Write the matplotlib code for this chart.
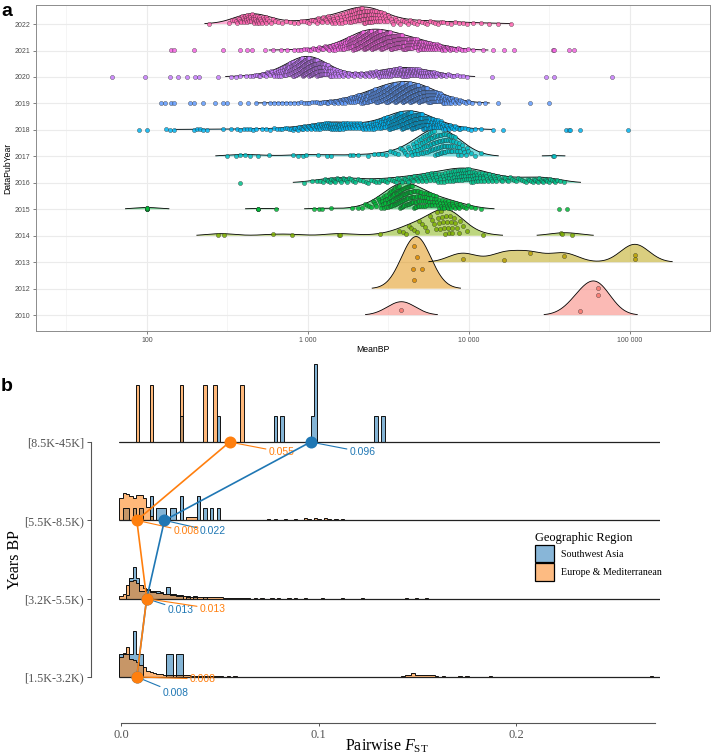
import numpy as np
import matplotlib
matplotlib.use("Agg")
import matplotlib.pyplot as plt
from matplotlib.patches import Patch
from matplotlib.ticker import FixedLocator, FixedFormatter

W, H = 713, 756
plt.rcParams['mathtext.fontset'] = 'custom'
plt.rcParams['mathtext.rm'] = 'Liberation Serif'
plt.rcParams['mathtext.it'] = 'Liberation Serif:italic'
SANS = 'Liberation Sans'
SERIF = 'Liberation Serif'

# ======================= panel a data =======================
years = ["2010", "2012", "2013", "2014", "2015", "2016", "2017",
         "2018", "2019", "2020", "2021", "2022"]
year_colors = ["#F8766D", "#DE8C00", "#B79F00", "#7CAE00", "#00BA38", "#00C08B",
               "#00BFC4", "#00B4F0", "#619CFF", "#C77CFF", "#F564E3", "#FF64B0"]

# log10(MeanBP) bin centres (bin width 0.05) used for the dense parts of each year
log10_bin_centers = [2.525, 2.575, 2.625, 2.675, 2.725, 2.775, 2.825, 2.875, 2.925, 2.975,
                     3.025, 3.075, 3.125, 3.175, 3.225, 3.275, 3.325, 3.375, 3.425, 3.475,
                     3.525, 3.575, 3.625, 3.675, 3.725, 3.775, 3.825, 3.875, 3.925, 3.975,
                     4.025, 4.075, 4.125, 4.175, 4.225, 4.275, 4.325, 4.375, 4.425, 4.475,
                     4.525, 4.575, 4.625, 4.675]

counts_2022 = [3, 8, 14, 14, 9, 4, 2, 2, 2, 3, 4, 6, 8, 9, 10, 15, 20, 20, 15, 9,
               6, 4, 4, 3, 3, 3, 3, 2, 2, 2, 1, 1, 1, 0, 0, 0, 0, 0, 0, 0, 0, 0, 0, 0]
singles_2022 = [2.385, 4.18, 4.26]

counts_2021 = [0, 0, 0, 0, 0, 0, 0, 0, 2, 3, 4, 6, 8, 11, 18, 30, 42, 50, 47, 42,
               37, 33, 29, 24, 19, 15, 11, 7, 4, 3, 1, 0, 0, 0, 0, 0, 0, 0, 0, 0, 0, 0, 0, 0]
singles_2021 = [2.15, 2.17, 2.29, 2.47, 2.58, 2.62, 2.65, 2.73, 2.78, 2.83, 2.87,
                4.09, 4.15, 4.22, 4.28, 4.52, 4.53, 4.62, 4.65]

counts_2020 = [0, 0, 2, 4, 6, 9, 15, 25, 42, 58, 56, 40, 22, 11, 7, 5, 6, 8, 12, 16,
               20, 22, 22, 20, 16, 12, 7, 4, 3, 2, 0, 0, 0, 0, 0, 0, 0, 0, 0, 0, 0, 0, 0, 0]
singles_2020 = [1.78, 1.99, 2.14, 2.19, 2.25, 2.30, 2.32, 2.44, 2.52, 2.55, 2.58,
                4.14, 4.48, 4.53, 4.89]

counts_2019 = [0, 1, 1, 1, 1, 2, 2, 2, 2, 3, 3, 4, 5, 7, 10, 14, 20, 27, 35, 43,
               50, 54, 54, 50, 42, 32, 22, 13, 7, 4, 0, 0, 0, 0, 0, 0, 0, 0, 0, 0, 0, 0, 0, 0]
singles_2019 = [2.09, 2.11, 2.15, 2.17, 2.27, 2.29, 2.35, 2.42, 2.47, 2.50,
                4.00, 4.02, 4.06, 4.10, 4.18, 4.38, 4.50]

counts_2018 = [0, 0, 0, 0, 2, 2, 3, 4, 6, 7, 9, 13, 17, 17, 14, 11, 10, 11, 15, 20,
               30, 38, 41, 38, 30, 22, 14, 8, 5, 3, 2, 1, 0, 0, 0, 0, 0, 0, 0, 0, 0, 0, 0, 0]
singles_2018 = [1.95, 2.00, 2.12, 2.14, 2.17, 2.29, 2.31, 2.33, 2.35, 2.37, 2.47, 2.52,
                2.56, 2.58, 2.60, 2.62, 2.64, 2.66, 2.68, 4.15, 4.21, 4.60, 4.62, 4.63,
                4.69, 4.99]

counts_2017 = [0, 0, 0, 0, 0, 0, 0, 0, 0, 0, 0, 0, 0, 0, 0, 0, 0, 1, 2, 2,
               3, 4, 6, 11, 17, 21, 22, 19, 12, 6, 2, 1, 0, 0, 0, 0, 0, 0, 0, 0, 0, 0, 0, 0]
singles_2017 = [2.50, 2.55, 2.58, 2.61, 2.64, 2.69, 2.76, 2.91, 2.94, 2.97, 2.99,
                3.06, 3.12, 3.14, 3.26, 3.28, 3.31, 4.52, 4.53]

counts_2016 = [0, 0, 0, 0, 0, 0, 0, 0, 0, 1, 1, 3, 5, 6, 5, 4, 3, 3, 3, 4,
               4, 5, 6, 7, 8, 9, 10, 12, 14, 15, 14, 11, 8, 6, 5, 4, 4, 5, 6, 6, 5, 2, 0, 0]
singles_2016 = [2.58]

counts_2015 = [0, 0, 0, 0, 0, 0, 0, 0, 0, 0, 0, 0, 0, 0, 0, 1, 2, 4, 7, 14,
               24, 33, 30, 22, 15, 12, 11, 10, 7, 4, 2, 1, 0, 0, 0, 0, 0, 0, 0, 0, 0, 0, 0, 0]
singles_2015 = [2.00, 2.00, 2.00, 2.00, 2.00, 2.00, 2.00, 2.69, 2.69, 2.69, 2.80,
                3.04, 3.07, 3.09, 3.14, 4.56, 4.61]

counts_2014 = [0, 0, 0, 0, 0, 0, 0, 0, 0, 0, 0, 0, 0, 0, 0, 0, 0, 0, 0, 0,
               0, 2, 3, 3, 3, 4, 8, 9, 5, 2, 0, 0, 0, 0, 0, 0, 0, 0, 0, 0, 0, 0, 0, 0]
singles_2014 = [2.44, 2.48, 2.78, 2.90, 3.19, 3.20, 3.45, 4.09, 4.57, 4.58, 4.64]

counts_2013 = [0] * 44
singles_2013 = [3.96, 4.22, 4.38, 4.59, 5.03, 5.03]
counts_2012 = [0] * 44
singles_2012 = [3.65, 3.66, 3.66, 3.68, 3.71]
counts_2010 = [0] * 44
singles_2010 = [3.58, 4.69, 4.80, 4.80]

year_counts = [counts_2010, counts_2012, counts_2013, counts_2014, counts_2015, counts_2016,
               counts_2017, counts_2018, counts_2019, counts_2020, counts_2021, counts_2022]
year_singles = [singles_2010, singles_2012, singles_2013, singles_2014, singles_2015,
                singles_2016, singles_2017, singles_2018, singles_2019, singles_2020,
                singles_2021, singles_2022]

joint_bandwidth = 0.088     # log10 units
ridge_scale = 1.97
rel_min_height = 0.01

# ======================= panel b data =======================
age_bins = ["[1.5K-3.2K)", "[3.2K-5.5K)", "[5.5K-8.5K)", "[8.5K-45K]"]
fst_binwidth = 0.0017

eur_r0_fst = [0.0, 0.0017, 0.0034, 0.0051, 0.0068, 0.0085, 0.0102, 0.0119, 0.0136, 0.0153,
              0.017, 0.0187, 0.0204, 0.0221, 0.0238, 0.0255, 0.0272, 0.0289, 0.0306, 0.0323,
              0.034, 0.0357, 0.0374, 0.0391, 0.0408, 0.0425, 0.0442, 0.0459, 0.0476, 0.0493,
              0.051, 0.0544, 0.0578, 0.1428, 0.1445, 0.1462, 0.1479, 0.1496, 0.1513, 0.153,
              0.1547, 0.1564, 0.1581, 0.1598, 0.1632, 0.1717, 0.1751, 0.187, 0.2686]
eur_r0_h = [0.255, 0.31, 0.38, 0.23, 0.22, 0.19, 0.15, 0.13, 0.08, 0.064,
            0.05, 0.04, 0.04, 0.026, 0.026, 0.026, 0.02, 0.02, 0.02, 0.02,
            0.02, 0.013, 0.013, 0.013, 0.013, 0.013, 0.013, 0.013, 0.013, 0.007,
            0.007, 0.007, 0.007, 0.013, 0.02, 0.03, 0.045, 0.03, 0.02, 0.03,
            0.025, 0.02, 0.025, 0.015, 0.01, 0.008, 0.008, 0.008, 0.008]
swa_r0_fst = [0.0, 0.0017, 0.0034, 0.0051, 0.0068, 0.0085, 0.0102, 0.0238, 0.0255, 0.0289, 0.0306]
swa_r0_h = [0.294, 0.294, 0.294, 0.294, 0.59, 0.294, 0.294, 0.294, 0.294, 0.294, 0.294]

eur_r1_fst = [0.0, 0.0017, 0.0034, 0.0051, 0.0068, 0.0085, 0.0102, 0.0119, 0.0136, 0.0153,
              0.017, 0.0187, 0.0204, 0.0221, 0.0238, 0.0255, 0.0272, 0.0289, 0.0306, 0.0323,
              0.034, 0.0357, 0.0374, 0.0391, 0.0408, 0.0425, 0.0442, 0.0459, 0.0476, 0.0493,
              0.051, 0.0527, 0.0544, 0.0561, 0.0578, 0.0595, 0.0612, 0.0629, 0.0646, 0.068,
              0.0714, 0.0765, 0.0799, 0.085, 0.0884, 0.0935, 0.102, 0.1122, 0.1224, 0.1445,
              0.1496, 0.1547]
eur_r1_h = [0.03, 0.06, 0.17, 0.23, 0.24, 0.2, 0.18, 0.14, 0.115, 0.1,
            0.09, 0.077, 0.077, 0.064, 0.064, 0.05, 0.05, 0.04, 0.04, 0.04,
            0.025, 0.025, 0.025, 0.02, 0.02, 0.02, 0.02, 0.02, 0.02, 0.02,
            0.02, 0.012, 0.012, 0.012, 0.012, 0.012, 0.012, 0.012, 0.012, 0.006,
            0.006, 0.006, 0.006, 0.006, 0.006, 0.006, 0.006, 0.006, 0.006, 0.006,
            0.006, 0.006]
swa_r1_fst = [0.0034, 0.0051, 0.0068, 0.0085, 0.0102, 0.0119, 0.0136, 0.0153, 0.017, 0.0187,
              0.0204, 0.0221, 0.0238, 0.0255, 0.0272, 0.0289, 0.0306, 0.034, 0.0374, 0.0425]
swa_r1_h = [0.05, 0.27, 0.41, 0.27, 0.1, 0.1, 0.12, 0.08, 0.1, 0.1,
            0.08, 0.06, 0.15, 0.06, 0.06, 0.05, 0.05, 0.04, 0.03, 0.02]

eur_r2_fst = [0.0, 0.0017, 0.0034, 0.0051, 0.0068, 0.0085, 0.0102, 0.0119, 0.0136, 0.0153,
              0.017, 0.0187, 0.0204, 0.0221, 0.0238, 0.0255, 0.0272, 0.0289, 0.0306, 0.0323,
              0.034, 0.0357, 0.0374, 0.0748, 0.0782, 0.0833, 0.0884, 0.0935, 0.0952, 0.0986,
              0.1003, 0.1037, 0.1054, 0.1088, 0.1122, 0.1156, 0.119]
eur_r2_h = [0.29, 0.345, 0.33, 0.31, 0.29, 0.32, 0.32, 0.28, 0.17, 0.05,
            0.01, 0.01, 0.01, 0.01, 0.01, 0.01, 0.01, 0.01, 0.01, 0.01,
            0.04, 0.04, 0.04, 0.015, 0.02, 0.015, 0.02, 0.025, 0.02, 0.025,
            0.02, 0.025, 0.02, 0.02, 0.015, 0.01, 0.01]
swa_r2_fst = [0.0017, 0.0034, 0.0068, 0.0102, 0.0153, 0.0187, 0.0204, 0.0221, 0.0255,
              0.0272, 0.0306, 0.0391, 0.0425, 0.0459, 0.0493]
swa_r2_h = [0.153, 0.153, 0.153, 0.153, 0.306, 0.153, 0.153, 0.153, 0.153,
            0.153, 0.306, 0.306, 0.153, 0.153, 0.153]

eur_r3_fst = [0.0085, 0.0153, 0.0306, 0.0425, 0.0476, 0.0612]
eur_r3_h = [0.728, 0.728, 0.728, 0.728, 0.728, 0.728]
swa_r3_fst = [0.0306, 0.0493, 0.0782, 0.0816, 0.0969, 0.0986, 0.1292, 0.1326]
swa_r3_h = [0.332, 0.332, 0.332, 0.332, 0.332, 0.996, 0.332, 0.332]

swa_summary = [0.008, 0.013, 0.022, 0.096]
eur_summary = [0.008, 0.013, 0.008, 0.055]

region_names = ["Southwest Asia", "Europe & Mediterranean"]
region_colors = ["#1f77b4", "#ff7f0e"]

# ======================= figure =======================
fig = plt.figure(figsize=(W / 100, H / 100), dpi=100)


def px_text(x, y, s, **kw):
    fig.text(x / W, 1 - y / H, s, **kw)


# ----------------------- panel a -----------------------
ax = fig.add_axes([36 / W, 1 - 331 / H, (710 - 36) / W, (331 - 5) / H])
ax.set_xscale('log')
grid = np.linspace(1.2, 5.6, 1500)


def kde(vals, x):
    z = (x[:, None] - vals[None, :]) / joint_bandwidth
    return np.exp(-0.5 * z * z).sum(axis=1) / (len(vals) * joint_bandwidth * np.sqrt(2 * np.pi))


year_points = []
for cnts, singles in zip(year_counts, year_singles):
    pts = list(singles)
    for c, n in zip(log10_bin_centers, cnts):
        for j in range(n):
            pts.append(c - 0.025 + (j + 0.5) * 0.05 / n)
    year_points.append(np.sort(np.array(pts)))

dens = [kde(p, grid) for p in year_points]
gmax = max(d.max() for d in dens)

for i, (pts, d, col) in enumerate(zip(year_points, dens, year_colors)):
    base = i + 1
    h = d / gmax * ridge_scale
    mask = d >= rel_min_height * gmax
    z = 2 + i * 3
    ax.fill_between(10 ** grid, base, base + h, where=mask, facecolor=col, alpha=0.5,
                    lw=0, zorder=z)
    ax.plot(10 ** grid, np.where(mask, base + h, np.nan), color='black', lw=0.6, zorder=z + 0.1)
    hp = kde(pts, pts) / gmax * ridge_scale
    u = 0.06 + 0.88 * ((np.arange(len(pts)) * 0.7548776662 + 0.37) % 1.0)
    ax.scatter(10 ** pts, base + u * hp, s=9, facecolor=col, edgecolor='#2b2b2b',
               linewidths=0.3, alpha=0.85, zorder=z + 0.2)

ax.set_xlim(10 ** 1.3106, 10 ** 5.497)
ax.set_ylim(0.4, 12.72)
ax.xaxis.set_major_locator(FixedLocator([100, 1000, 10000, 100000]))
ax.xaxis.set_major_formatter(FixedFormatter(["100", "1 000", "10 000", "100 000"]))
ax.xaxis.set_minor_locator(FixedLocator([10 ** 1.5, 10 ** 2.5, 10 ** 3.5, 10 ** 4.5, 10 ** 5.5]))
ax.xaxis.set_minor_formatter(FixedFormatter([""] * 5))
ax.set_yticks(range(1, len(years) + 1))
ax.set_yticklabels(years)
ax.tick_params(axis='both', which='major', labelsize=5, colors='#4D4D4D', length=2,
               width=0.5, pad=2)
ax.tick_params(axis='x', which='minor', length=0)
for lab in ax.get_xticklabels() + ax.get_yticklabels():
    lab.set_fontfamily(SANS)
ax.grid(which='major', color='#EBEBEB', lw=0.8, zorder=0)
ax.grid(which='minor', axis='x', color='#F2F2F2', lw=0.5, zorder=0)
ax.set_axisbelow(True)
for sp in ax.spines.values():
    sp.set_color('#8C8C8C')
    sp.set_linewidth(0.7)

px_text(373, 349, "MeanBP", fontsize=6.2, family=SANS, ha='center', va='center')
px_text(8, 168, "DataPubYear", fontsize=6.2, family=SANS, ha='center', va='center', rotation=90)
px_text(1, 3, "a", fontsize=14, family=SANS, weight='bold', ha='left', va='top')

# ----------------------- panel b -----------------------
bx = fig.add_axes([91 / W, 1 - 723 / H, (660 - 91) / W, (723 - 360) / H])
nb = 161
edges = -fst_binwidth / 2 + fst_binwidth * np.arange(nb + 1)
alpha_b = 0.55

swa_rows = [(swa_r0_fst, swa_r0_h), (swa_r1_fst, swa_r1_h), (swa_r2_fst, swa_r2_h), (swa_r3_fst, swa_r3_h)]
eur_rows = [(eur_r0_fst, eur_r0_h), (eur_r1_fst, eur_r1_h), (eur_r2_fst, eur_r2_h), (eur_r3_fst, eur_r3_h)]


def to_bins(fst, hh):
    v = np.zeros(nb)
    for f, val in zip(fst, hh):
        v[int(round(f / fst_binwidth))] = val
    return v


for r in range(4):
    for rows, col in ((swa_rows, region_colors[0]), (eur_rows, region_colors[1])):
        v = to_bins(*rows[r])
        bx.stairs(r + v, edges, baseline=r, fill=True, facecolor=col, alpha=alpha_b,
                  lw=0, zorder=2)
        bx.stairs(r + v, edges, baseline=r, fill=False, color='#111111', lw=0.7, zorder=3)
    bx.hlines(r, edges[0], edges[-1], color='#222222', lw=0.9, zorder=3)

rows_y = np.arange(4)
label_off_swa = [(18.7, -11.5), (15.1, -7.9), (25.2, -7.9), (28.1, -7.2)]
label_off_eur = [(38.2, -1.4), (38.2, -7.2), (26.6, -7.9), (28.1, -7.2)]
for summ, col, offs in ((swa_summary, region_colors[0], label_off_swa),
                        (eur_summary, region_colors[1], label_off_eur)):
    bx.plot(summ, rows_y, color=col, lw=1.2, zorder=5)
    for xv, yv, off in zip(summ, rows_y, offs):
        bx.annotate(f"{xv:.3f}", xy=(xv, yv), xytext=off, textcoords='offset points',
                    fontsize=7.5, family=SANS, color=col, ha='left', va='center',
                    arrowprops=dict(arrowstyle='-', color=col, lw=0.8, shrinkA=0, shrinkB=0),
                    zorder=4)
    bx.scatter(summ, rows_y, s=75, color=col, zorder=6, linewidths=0)

bx.set_xlim(-(121 - 91) / 1975, (660 - 121) / 1975)
bx.set_ylim(-0.587, 4.047)
bx.set_yticks(rows_y)
bx.set_yticklabels(age_bins)
bx.set_xticks([0.0, 0.1, 0.2])
bx.set_xticklabels(["0.0", "0.1", "0.2"])
for lab in bx.get_xticklabels() + bx.get_yticklabels():
    lab.set_fontfamily(SERIF)
bx.tick_params(axis='y', labelsize=8.7, colors='#555555', length=3, width=0.7, pad=2)
bx.tick_params(axis='x', labelsize=9, colors='#555555', length=2, width=0.7, pad=2)
for s in ('top', 'right'):
    bx.spines[s].set_visible(False)
bx.spines['left'].set_bounds(0, 3)
bx.spines['bottom'].set_bounds(0, 0.2705)
for s in ('left', 'bottom'):
    bx.spines[s].set_color('#555555')
    bx.spines[s].set_linewidth(0.8)
bx.patch.set_alpha(0)

handles = [Patch(facecolor=c, edgecolor='black', lw=0.9) for c in ("#88B6D8", "#FDBB82")]
leg = fig.legend(handles, region_names, loc='upper left',
                 bbox_to_anchor=(526 / W, 1 - 523 / H), frameon=False,
                 title="Geographic Region", prop={'family': SERIF, 'size': 7.2},
                 title_fontproperties={'family': SERIF, 'size': 9},
                 handlelength=1.9, handleheight=2.3, labelspacing=0.1,
                 handletextpad=0.7, alignment='left')

px_text(387, 746, r"Pairwise $F_{\mathrm{ST}}$", fontsize=11.5, family=SERIF,
        ha='center', va='center')
px_text(15, 560, "Years BP", fontsize=11.5, family=SERIF, ha='center', va='center',
        rotation=90)
px_text(1, 378, "b", fontsize=14, family=SANS, weight='bold', ha='left', va='top')

fig.savefig("out.png", dpi=100)
